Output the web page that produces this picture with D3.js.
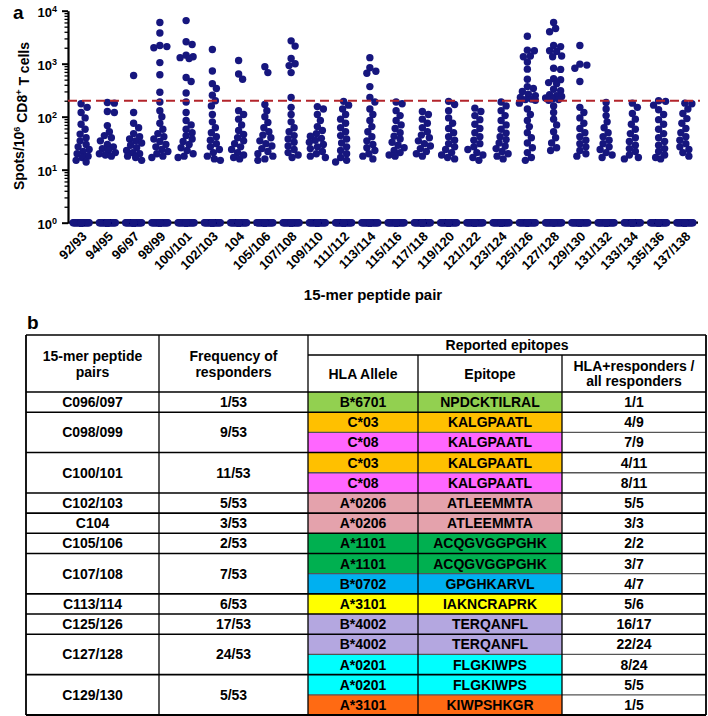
<!DOCTYPE html>
<html>
<head>
<meta charset="utf-8">
<script src="https://cdn.jsdelivr.net/npm/d3@7/dist/d3.min.js"></script>
<style>
  html, body { margin: 0; padding: 0; background: #fff; }
  svg { display: block; font-family: "Liberation Sans", Arial, sans-serif; font-weight: bold; }
</style>
</head>
<body>
<script>
// ---------------- DATA: panel a ----------------
const categories = ["92/93","94/95","96/97","98/99","100/101","102/103","104","105/106","107/108","109/110","111/112","113/114","115/116","117/118","119/120","121/122","123/124","125/126","127/128","129/130","131/132","133/134","135/136","137/138"];
const donorsPerPeptide = 53;
const responseThreshold = 200;
const yTickValues = [1, 10, 100, 1000, 10000];

// positive responses (spots/10^6 CD8+ T cells); remaining donors are plotted at 10^0
const v92_93   = [175,150,120,95,72,58,47,40,35,30,27,24,22,20,18,17,15,14];
const v94_95   = [185,180,125,120,68,52,44,40,35,30,27,25,23,21,20,19,18];
const v96_97   = [600,120,75,62,48,42,38,35,32,29,26,23,21,20,18,17,15];
const v98_99   = [6000,3800,2200,2100,2000,1050,620,290,190,130,100,75,58,48,42,38,34,30,27,24,22,20,18,17];
const v100_101 = [6500,2600,2300,1450,1350,1300,1250,550,460,280,190,120,85,70,58,50,44,38,34,30,26,23,20,18,17];
const v102_103 = [1850,730,420,340,255,200,160,110,80,62,50,42,36,31,27,24,21,18,16,15];
const v104     = [1150,640,510,130,110,90,70,55,46,40,35,31,27,24,21,19,17,16];
const v105_106 = [880,680,170,130,100,78,62,52,45,40,35,31,28,25,22,20,18,16,15];
const v107_108 = [2700,2150,1250,1000,920,680,230,150,110,80,62,52,44,38,33,28,24,21,19,17];
const v109_110 = [155,140,110,85,65,55,48,43,39,36,33,30,27,25,22,20,18,17];
const v111_112 = [195,165,140,110,90,75,62,52,44,38,32,27,23,20,17,15,14];
const v113_114 = [1300,840,720,660,370,230,190,140,110,85,65,52,42,35,30,26,23,20,18,16];
const v115_116 = [190,175,130,105,85,70,60,50,43,38,33,29,26,23,21,19,18];
const v117_118 = [125,110,90,75,62,52,45,40,35,31,28,25,22,20,18];
const v119_120 = [195,170,130,95,75,60,50,42,36,31,27,24,21,19,17,16];
const v121_122 = [145,125,105,88,72,60,50,42,36,31,27,24,21,19,17,15];
const v123_124 = [190,160,130,105,85,70,58,49,42,37,32,28,25,22,20,18,16];
const v125_126 = [3300,1800,1750,1400,1350,1080,790,510,370,340,300,265,250,230,215,210,205,180,140,110,85,65,50,40,32,26,21,17,15];
const v127_128 = [6000,4600,4000,2200,2100,1750,1700,1400,1350,820,780,520,500,440,420,330,310,260,250,240,225,215,210,205,160,120,90,70,52,40,32,26,23];
const v129_130 = [2200,980,940,820,460,150,120,95,75,60,50,42,36,31,27,23,20,18];
const v131_132 = [185,140,105,80,62,50,42,36,31,27,24,21,19,17];
const v133_134 = [180,150,115,90,72,58,48,40,34,29,25,22,19,17,16];
const v135_136 = [200,195,165,135,110,88,72,58,48,40,34,29,25,22,19,17,16];
const v137_138 = [180,175,140,115,92,75,60,50,42,36,31,27,24,21,18];

const seriesValues = [v92_93,v94_95,v96_97,v98_99,v100_101,v102_103,v104,v105_106,v107_108,v109_110,v111_112,v113_114,v115_116,v117_118,v119_120,v121_122,v123_124,v125_126,v127_128,v129_130,v131_132,v133_134,v135_136,v137_138];

// ---------------- DATA: panel b ----------------
const pairNames = ["C096/097","C098/099","C100/101","C102/103","C104","C105/106","C107/108","C113/114","C125/126","C127/128","C129/130"];
const responderFreq = ["1/53","9/53","11/53","5/53","3/53","2/53","7/53","6/53","17/53","24/53","5/53"];
const epitopesPerPair = [1,2,2,1,1,1,2,1,1,2,2];
const hlaAlleles = ["B*6701","C*03","C*08","C*03","C*08","A*0206","A*0206","A*1101","A*1101","B*0702","A*3101","B*4002","B*4002","A*0201","A*0201","A*3101"];
const epitopeSeqs = ["NPDCKTILRAL","KALGPAATL","KALGPAATL","KALGPAATL","KALGPAATL","ATLEEMMTA","ATLEEMMTA","ACQGVGGPGHK","ACQGVGGPGHK","GPGHKARVL","IAKNCRAPRK","TERQANFL","TERQANFL","FLGKIWPS","FLGKIWPS","KIWPSHKGR"];
const hlaRatios = ["1/1","4/9","7/9","4/11","8/11","5/5","3/3","2/2","3/7","4/7","5/6","16/17","22/24","8/24","5/5","1/5"];
const alleleColors = ["#92D050","#FFC000","#FF66FF","#FFC000","#FF66FF","#E4A2AC","#E4A2AC","#00B050","#00B050","#00B0F0","#FFFF00","#B4A7E0","#B4A7E0","#00FFFF","#00FFFF","#FF6A13"];

// ---------------- DRAW ----------------
const W = 708, H = 716;
const svg = d3.select("body").append("svg").attr("width", W).attr("height", H);

// ---- Panel a ----
const x = d3.scalePoint().domain(categories).range([68, 698]).padding(0.5);
const y = d3.scaleLog().domain([1, 10000]).range([222.7, 10.7]);
const dotR = 3.7;
const dotColor = "#16167e";

svg.append("text").attr("x", 13).attr("y", 19).attr("font-size", 19).text("a");

// minor ticks
const minorTicks = [];
[1, 10, 100, 1000].forEach(d => { for (let k = 2; k <= 9; k++) minorTicks.push(d * k); });
svg.append("g").attr("transform", "translate(68,0)")
  .call(d3.axisLeft(y).tickValues(minorTicks).tickSize(3.5).tickFormat(""))
  .call(g => g.select(".domain").remove())
  .call(g => g.selectAll("line").attr("stroke", "#000").attr("stroke-width", 1.3));

const yAxisG = svg.append("g").attr("transform", "translate(68,0)")
  .call(d3.axisLeft(y).tickValues(yTickValues).tickSize(6).tickSizeOuter(0).tickFormat(d => ""));
yAxisG.select(".domain").attr("stroke", "#000").attr("stroke-width", 2.2);
yAxisG.selectAll(".tick line").attr("stroke", "#000").attr("stroke-width", 2);
yAxisG.selectAll(".tick text").each(function(d) {
  const t = d3.select(this).attr("x", -11).attr("dy", "0.45em").attr("font-size", 13).attr("fill", "#000");
  t.append("tspan").text("10");
  t.append("tspan").attr("dy", "-0.55em").attr("font-size", 9).text(Math.round(Math.log10(d)));
});

// x axis
const xAxisG = svg.append("g").attr("transform", `translate(0,${y(1)})`)
  .call(d3.axisBottom(x).tickSize(4).tickSizeOuter(0));
xAxisG.select(".domain").remove();
xAxisG.append("line").attr("x1", 68).attr("x2", 698).attr("stroke", "#000").attr("stroke-width", 2.2);
xAxisG.selectAll(".tick line").attr("stroke", "#000").attr("stroke-width", 1.5);
xAxisG.selectAll(".tick text")
  .attr("x", 0).attr("y", 0).attr("dy", 0)
  .attr("transform", "translate(6,14.5) rotate(-45)")
  .attr("text-anchor", "end").attr("font-size", 13).attr("fill", "#000");

// axis titles
svg.append("text").attr("transform", "translate(24,116) rotate(-90)")
  .attr("text-anchor", "middle").attr("font-size", 14)
  .call(t => {
    t.append("tspan").text("Spots/10");
    t.append("tspan").attr("dy", "-0.5em").attr("font-size", 9).text("6");
    t.append("tspan").attr("dy", "0.5em").text(" CD8");
    t.append("tspan").attr("dy", "-0.5em").attr("font-size", 9).text("+");
    t.append("tspan").attr("dy", "0.5em").text(" T cells");
  });
svg.append("text").attr("x", 373).attr("y", 300).attr("text-anchor", "middle")
  .attr("font-size", 15).text("15-mer peptide pair");

// dots: a simple beeswarm per category
function swarm(vals, maxOff) {
  const placed = [];
  vals.slice().sort((a, b) => b - a).forEach(v => {
    const py = y(v);
    let best = 0, bestScore = -1;
    for (let k = 0; k <= maxOff * 2; k++) {
      const off = k === 0 ? 0 : (k % 2 ? (k + 1) / 2 : -k / 2);
      let md = Infinity;
      for (const p of placed) {
        const dd = Math.hypot(p.dx - off, p.py - py);
        if (dd < md) md = dd;
      }
      if (md >= 2 * dotR * 0.85) { best = off; bestScore = Infinity; break; }
      if (md > bestScore) { bestScore = md; best = off; }
    }
    placed.push({ v, py, dx: best });
  });
  return placed;
}

const dotsG = svg.append("g");
categories.forEach((c, i) => {
  const pos = seriesValues[i];
  const zeros = d3.range(donorsPerPeptide - pos.length).map(() => 1); // non-responders plotted at 10^0
  const pts = swarm(pos.concat(zeros), 8);
  dotsG.selectAll(null).data(pts).enter().append("circle")
    .attr("cx", d => x(c) + d.dx)
    .attr("cy", d => y(d.v))
    .attr("r", dotR)
    .attr("fill", dotColor);
});

// threshold line
svg.append("line").attr("x1", 68).attr("x2", 700)
  .attr("y1", y(responseThreshold)).attr("y2", y(responseThreshold))
  .attr("stroke", "#b3242b").attr("stroke-width", 2).attr("stroke-dasharray", "9,5");

// ---- Panel b (table) ----
svg.append("text").attr("x", 27).attr("y", 329).attr("font-size", 19).text("b");

const colX = [26, 159, 308, 418, 562, 706];
const tTop = 335, tSub = 355, tHead = 392, tBottom = 715;
const nSub = hlaAlleles.length;
const rowY = d3.scaleLinear().domain([0, nSub]).range([tHead, tBottom]);
const groupStart = [];
epitopesPerPair.reduce((acc, n) => { groupStart.push(acc); return acc + n; }, 0);

const tbl = svg.append("g").attr("font-size", 14).attr("fill", "#000");

tbl.selectAll(".cA").data(hlaAlleles).enter().append("rect")
  .attr("x", colX[2]).attr("y", (d, i) => rowY(i))
  .attr("width", colX[3] - colX[2]).attr("height", rowY(1) - rowY(0))
  .attr("fill", (d, i) => alleleColors[i]);
tbl.selectAll(".cE").data(epitopeSeqs).enter().append("rect")
  .attr("x", colX[3]).attr("y", (d, i) => rowY(i))
  .attr("width", colX[4] - colX[3]).attr("height", rowY(1) - rowY(0))
  .attr("fill", (d, i) => alleleColors[i]);

const cx = i => (colX[i] + colX[i + 1]) / 2;
function multiline(xc, yc, lines, lh) {
  const g = tbl.append("text").attr("text-anchor", "middle");
  lines.forEach((l, k) => g.append("tspan").attr("x", xc)
    .attr("y", yc + 5 + (k - (lines.length - 1) / 2) * lh).text(l));
}
multiline(cx(0), (tTop + tHead) / 2, ["15-mer peptide", "pairs"], 16);
multiline(cx(1), (tTop + tHead) / 2, ["Frequency of", "responders"], 16);
multiline((colX[2] + colX[5]) / 2, (tTop + tSub) / 2, ["Reported epitopes"], 16);
multiline(cx(2), (tSub + tHead) / 2, ["HLA Allele"], 16);
multiline(cx(3), (tSub + tHead) / 2, ["Epitope"], 16);
multiline(cx(4), (tSub + tHead) / 2, ["HLA+responders /", "all responders"], 15);

pairNames.forEach((p, i) => {
  const yc = (rowY(groupStart[i]) + rowY(groupStart[i] + epitopesPerPair[i])) / 2;
  multiline(cx(0), yc, [p], 16);
  multiline(cx(1), yc, [responderFreq[i]], 16);
});
hlaAlleles.forEach((a, i) => {
  const yc = (rowY(i) + rowY(i + 1)) / 2;
  multiline(cx(2), yc, [a], 16);
  multiline(cx(3), yc, [epitopeSeqs[i]], 16);
  multiline(cx(4), yc, [hlaRatios[i]], 16);
});

const lines = tbl.append("g").attr("stroke", "#000");
hlaAlleles.forEach((a, i) => {
  if (i === 0 || groupStart.includes(i)) return;
  lines.append("line").attr("x1", colX[2]).attr("x2", colX[5])
    .attr("y1", rowY(i)).attr("y2", rowY(i)).attr("stroke", "#555").attr("stroke-width", 1.3);
});
groupStart.forEach(s => {
  lines.append("line").attr("x1", colX[0]).attr("x2", colX[5])
    .attr("y1", rowY(s)).attr("y2", rowY(s)).attr("stroke-width", 1.6);
});
lines.append("line").attr("x1", colX[0]).attr("x2", colX[5]).attr("y1", tTop).attr("y2", tTop).attr("stroke-width", 1.6);
lines.append("line").attr("x1", colX[0]).attr("x2", colX[5]).attr("y1", tBottom).attr("y2", tBottom).attr("stroke-width", 2);
lines.append("line").attr("x1", colX[2]).attr("x2", colX[5]).attr("y1", tSub).attr("y2", tSub).attr("stroke-width", 1.3);
[0, 1, 2, 5].forEach(k => lines.append("line").attr("x1", colX[k]).attr("x2", colX[k])
  .attr("y1", tTop).attr("y2", tBottom).attr("stroke-width", k === 0 || k === 5 ? 1.8 : 1.3));
[3, 4].forEach(k => lines.append("line").attr("x1", colX[k]).attr("x2", colX[k])
  .attr("y1", tSub).attr("y2", tBottom).attr("stroke-width", 1.3));
</script>
</body>
</html>
